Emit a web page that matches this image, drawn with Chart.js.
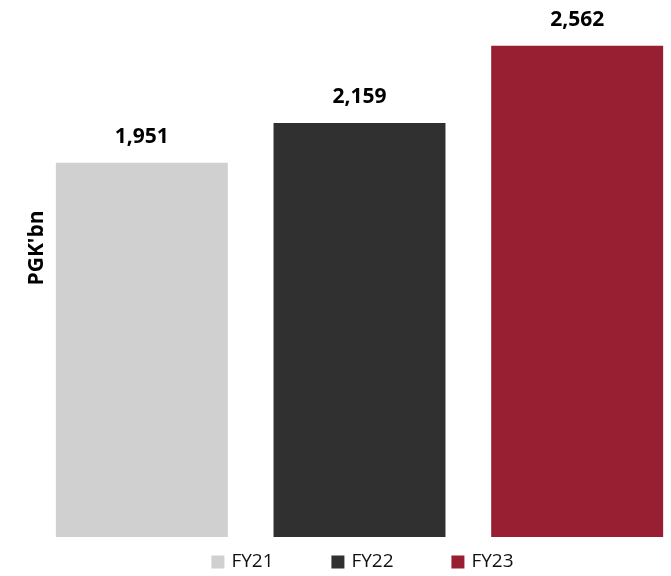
<!DOCTYPE html>
<html>
<head>
<meta charset="utf-8">
<script src="https://cdn.jsdelivr.net/npm/chart.js@4.4.0/dist/chart.umd.min.js"></script>
<style>
  html, body { margin: 0; padding: 0; background: #fff; overflow: hidden; }
  #wrap { position: relative; width: 686px; height: 576px; }
</style>
</head>
<body>
<div id="wrap"><canvas id="chartPgk"></canvas></div>
<script>
const categories = ['FY21', 'FY22', 'FY23'];
const values = [1951, 2159, 2562];
const barColors = ['#d0d0d0', '#303030', '#981e32'];
const axisTitle = "PGK'bn";

// value labels above each bar
const valueLabels = {
    id: 'valueLabels',
    afterDatasetsDraw(chart) {
        const ctx = chart.ctx;
        const meta = chart.getDatasetMeta(0);
        ctx.save();
        ctx.font = 'bold 21px "Open Sans"';
        ctx.fillStyle = '#000';
        ctx.textAlign = 'center';
        ctx.textBaseline = 'middle';
        meta.data.forEach((bar, i) => {
            ctx.fillText(values[i].toLocaleString('en-US'), bar.x, bar.y - 26);
        });
        ctx.restore();
    }
};

// rotated y title + legend row at the bottom
const extras = {
    id: 'extras',
    afterDraw(chart) {
        const ctx = chart.ctx;
        const area = chart.chartArea;
        ctx.save();
        ctx.translate(37, 248);
        ctx.rotate(-Math.PI / 2);
        ctx.font = 'bold 21px "Open Sans"';
        ctx.fillStyle = '#000';
        ctx.textAlign = 'center';
        ctx.textBaseline = 'middle';
        ctx.fillText(axisTitle, 0, 0);
        ctx.restore();

        ctx.save();
        ctx.font = '19px "Open Sans"';
        ctx.textBaseline = 'middle';
        const box = 13, gap = 7, step = 120;
        const lastW = box + gap + ctx.measureText(categories[categories.length - 1]).width;
        const total = step * (categories.length - 1) + lastW;
        let x = (area.left + area.right) / 2 - total / 2 + 3;
        const y = 562;
        categories.forEach((c, i) => {
            ctx.fillStyle = barColors[i];
            ctx.fillRect(x, y - box / 2, box, box);
            ctx.fillStyle = '#111';
            ctx.fillText(c, x + box + gap, y);
            x += step;
        });
        ctx.restore();
    }
};

const ctx = document.getElementById('chartPgk').getContext('2d');
new Chart(ctx, {
    type: 'bar',
    data: {
        labels: categories,
        datasets: [{
            data: values,
            backgroundColor: barColors,
            categoryPercentage: 1,
            barPercentage: 0.79
        }]
    },
    options: {
        responsive: true,
        maintainAspectRatio: false,
        animation: false,
        layout: { padding: { left: 33, top: 0, right: 0, bottom: 39 } },
        plugins: {
            legend: { display: false },
            tooltip: { enabled: false }
        },
        scales: {
            x: { display: false },
            y: { display: false, min: 0, max: 2800 }
        }
    },
    plugins: [valueLabels, extras]
});
</script>
</body>
</html>
